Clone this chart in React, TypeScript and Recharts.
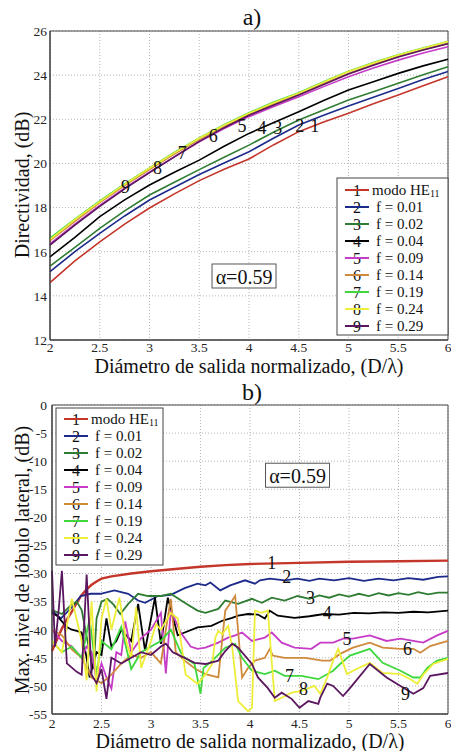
import React from 'react';
import { LineChart, Line, XAxis, YAxis, CartesianGrid, ReferenceDot, ReferenceArea } from 'recharts';

const FONT = "'Liberation Serif', 'Times New Roman', Times, 'DejaVu Serif', serif";

// ---------- shared ----------
const seriesNames = ['modo HE', 'f = 0.01', 'f = 0.02', 'f = 0.04', 'f = 0.09', 'f = 0.14', 'f = 0.19', 'f = 0.24', 'f = 0.29'];
const seriesDigits = ['1', '2', '3', '4', '5', '6', '7', '8', '9'];
const seriesColors = ['#c4352a', '#1c2a8a', '#2f7d32', '#000000', '#c63cc6', '#cf8a3c', '#3ed83e', '#eeee3a', '#5a165e'];
const xTicks = [2, 2.5, 3, 3.5, 4, 4.5, 5, 5.5, 6];
const xTickLabels = ['2', '2.5', '3', '3.5', '4', '4.5', '5', '5.5', '6'];

// ---------- chart a) Directividad ----------
const dirTicks = [12, 14, 16, 18, 20, 22, 24, 26];
const dirX = [2, 2.25, 2.5, 2.75, 3, 3.25, 3.5, 3.75, 4, 4.25, 4.5, 4.75, 5, 5.25, 5.5, 5.75, 6];
const dir1 = [14.6, 15.58, 16.45, 17.25, 17.98, 18.62, 19.22, 19.74, 20.2, 20.85, 21.44, 21.88, 22.27, 22.7, 23.1, 23.52, 23.93];
const dir2 = [15.1, 16.0, 16.83, 17.62, 18.34, 18.92, 19.5, 20.02, 20.53, 21.15, 21.74, 22.18, 22.6, 23.0, 23.4, 23.8, 24.16];
const dir3 = [15.35, 16.2, 17.06, 17.85, 18.57, 19.15, 19.72, 20.28, 20.83, 21.42, 21.97, 22.42, 22.87, 23.25, 23.63, 24.02, 24.38];
const dir4 = [15.77, 16.65, 17.59, 18.35, 19.02, 19.6, 20.15, 20.78, 21.36, 21.85, 22.34, 22.85, 23.33, 23.7, 24.08, 24.42, 24.72];
const dir5 = [16.35, 17.25, 18.1, 18.88, 19.6, 20.3, 20.98, 21.58, 22.12, 22.58, 23.02, 23.48, 23.93, 24.32, 24.68, 25.0, 25.29];
const dir6 = [16.5, 17.38, 18.22, 19.0, 19.72, 20.42, 21.08, 21.68, 22.22, 22.7, 23.14, 23.62, 24.08, 24.48, 24.84, 25.15, 25.44];
const dir7 = [16.62, 17.48, 18.3, 19.07, 19.8, 20.5, 21.16, 21.75, 22.3, 22.78, 23.2, 23.7, 24.18, 24.57, 24.92, 25.23, 25.52];
const dir8 = [16.55, 17.45, 18.27, 19.05, 19.78, 20.48, 21.14, 21.73, 22.27, 22.75, 23.18, 23.68, 24.16, 24.55, 24.91, 25.22, 25.52];
const dir9 = [16.3, 17.2, 18.05, 18.85, 19.58, 20.3, 21.0, 21.62, 22.18, 22.65, 23.1, 23.58, 24.05, 24.45, 24.82, 25.14, 25.42];
const dirSeries = [dir1, dir2, dir3, dir4, dir5, dir6, dir7, dir8, dir9];
const dirLabels = [
  { t: '1', x: 4.66, y: 21.7 }, { t: '2', x: 4.51, y: 21.7 }, { t: '3', x: 4.29, y: 21.6 },
  { t: '4', x: 4.13, y: 21.6 }, { t: '5', x: 3.93, y: 21.7 }, { t: '6', x: 3.64, y: 21.24 },
  { t: '7', x: 3.33, y: 20.47 }, { t: '8', x: 3.08, y: 19.8 }, { t: '9', x: 2.76, y: 18.93 },
];

// ---------- chart b) Max. nivel de lobulo lateral ----------
const sllTicks = [-55, -50, -45, -40, -35, -30, -25, -20, -15, -10, -5, 0];
const sll1 = [[2.0,-43.8],[2.05,-41.8],[2.1,-39.8],[2.15,-38.2],[2.2,-36.8],[2.25,-35.2],[2.3,-33.8],[2.35,-32.8],[2.4,-32.0],[2.45,-31.4],[2.5,-30.9],[2.6,-30.5],[2.8,-30.0],[3.0,-29.6],[3.3,-29.1],[3.5,-28.8],[3.75,-28.5],[4.0,-28.3],[4.5,-28.1],[5.0,-27.9],[5.5,-27.8],[6.0,-27.7]];
const sll2 = [[2.0,-36.6],[2.09,-38.0],[2.2,-36],[2.29,-34.0],[2.39,-33.6],[2.49,-33.6],[2.63,-33.0],[2.77,-33.6],[2.87,-34.8],[2.94,-35.2],[3.07,-34.0],[3.2,-33.8],[3.34,-32.6],[3.47,-31.8],[3.55,-32.1],[3.6,-31.6],[3.7,-33.0],[3.8,-32.1],[3.95,-31.2],[4.05,-31.8],[4.1,-31.2],[4.2,-30.9],[4.35,-31.2],[4.48,-30.9],[4.6,-31.3],[4.7,-30.9],[4.85,-31.2],[5.0,-30.8],[5.15,-31.3],[5.3,-30.9],[5.45,-31.2],[5.6,-30.8],[5.75,-31.1],[5.9,-30.6],[6.0,-30.5]];
const sll3 = [[2.0,-36.5],[2.1,-37.2],[2.2,-35.5],[2.25,-35],[2.3,-36.5],[2.38,-44],[2.42,-47],[2.45,-38],[2.5,-35],[2.56,-34.5],[2.62,-35.5],[2.69,-37.2],[2.77,-35.4],[2.87,-33.6],[2.97,-34],[3.1,-34],[3.2,-33.6],[3.34,-35.2],[3.47,-36.6],[3.55,-37],[3.68,-36.3],[3.75,-34.8],[3.88,-35.4],[4.02,-34.5],[4.12,-35.2],[4.22,-34.3],[4.35,-34.8],[4.48,-34],[4.6,-34.5],[4.7,-33.9],[4.8,-34.3],[4.9,-33.7],[5.0,-34.1],[5.1,-33.6],[5.2,-34.0],[5.3,-33.5],[5.4,-33.9],[5.5,-33.5],[5.6,-33.8],[5.7,-33.3],[5.8,-33.7],[5.9,-33.4],[6.0,-33.4]];
const sll4 = [[2.0,-37],[2.05,-37.5],[2.1,-38.5],[2.15,-39.5],[2.2,-40],[2.25,-40.2],[2.3,-40.5],[2.35,-45],[2.38,-48.5],[2.45,-44],[2.5,-44.5],[2.55,-38],[2.6,-43],[2.65,-42],[2.7,-40],[2.8,-42],[2.87,-35.4],[2.94,-43.7],[3.04,-34.3],[3.1,-42.5],[3.17,-34.3],[3.27,-41],[3.34,-40.5],[3.47,-39.6],[3.61,-39.3],[3.72,-38.4],[3.82,-37.9],[3.88,-37.5],[3.98,-37.2],[4.08,-37.3],[4.15,-38],[4.2,-36.6],[4.28,-37.5],[4.45,-37.9],[4.6,-37.6],[4.75,-37.2],[4.9,-37.3],[5.05,-37.0],[5.2,-37.1],[5.35,-36.9],[5.5,-37.0],[5.65,-36.8],[5.8,-36.9],[6.0,-36.6]];
const sll5 = [[2.0,-40],[2.05,-41],[2.1,-42],[2.2,-43],[2.3,-45],[2.35,-43],[2.4,-44],[2.45,-49],[2.5,-46],[2.55,-48.5],[2.6,-50.5],[2.65,-44],[2.7,-44.5],[2.74,-38.5],[2.8,-44],[2.9,-41.5],[3.0,-40],[3.1,-37],[3.15,-47.8],[3.2,-36.5],[3.3,-40.5],[3.4,-43],[3.47,-43.4],[3.55,-43.2],[3.68,-42.3],[3.78,-41.4],[3.85,-41],[3.92,-40.5],[4.02,-42],[4.15,-41.4],[4.22,-40.5],[4.32,-42.3],[4.45,-43.2],[4.62,-43.4],[4.71,-42.3],[4.84,-42.3],[4.94,-41.6],[5.04,-41.6],[5.21,-41.0],[5.38,-42],[5.52,-41.6],[5.65,-42],[5.75,-42.3],[5.89,-41],[6.0,-40.2]];
const sll6 = [[2.0,-40],[2.1,-41],[2.2,-43.5],[2.3,-45],[2.4,-48.5],[2.5,-49.5],[2.6,-48],[2.7,-46],[2.8,-44.5],[2.9,-45],[3.0,-44],[3.1,-46],[3.15,-40],[3.2,-34.5],[3.25,-44],[3.34,-45.5],[3.45,-47],[3.55,-47.9],[3.68,-48.5],[3.75,-36.6],[3.82,-34.8],[3.85,-34],[3.92,-48.5],[3.98,-46.8],[4.05,-45.5],[4.15,-45],[4.2,-43.4],[4.23,-44.6],[4.35,-45],[4.56,-45],[4.73,-45.5],[4.81,-45.5],[4.91,-44.3],[5.04,-43.2],[5.21,-42.3],[5.34,-43.2],[5.52,-43.4],[5.65,-43.4],[5.72,-44.1],[5.82,-42.9],[6.0,-42]];
const sll7 = [[2.0,-42],[2.1,-44],[2.2,-43],[2.3,-45],[2.38,-38],[2.45,-48],[2.5,-42],[2.6,-43.5],[2.7,-39.5],[2.8,-47],[2.9,-44],[3.0,-43],[3.1,-42],[3.2,-40],[3.3,-44],[3.34,-45],[3.44,-46.1],[3.5,-51.4],[3.53,-46.8],[3.62,-45.5],[3.75,-43.2],[3.85,-42.5],[3.92,-45],[4.02,-47.3],[4.15,-47.9],[4.25,-47.3],[4.35,-48.2],[4.52,-48.2],[4.69,-48.8],[4.84,-47.3],[4.91,-46.1],[5.01,-44.6],[5.21,-43.4],[5.34,-45.9],[5.52,-47.3],[5.65,-48.5],[5.72,-48.5],[5.79,-46.8],[5.89,-45.5],[6.0,-45]];
const sll8 = [[2.0,-42],[2.1,-44],[2.2,-34.5],[2.3,-42],[2.35,-49],[2.4,-35],[2.45,-51],[2.5,-38],[2.55,-34.5],[2.6,-40],[2.68,-34.3],[2.75,-42],[2.8,-45],[2.85,-36],[2.9,-46.8],[3.0,-42],[3.05,-39],[3.1,-40],[3.2,-37],[3.27,-38],[3.35,-48],[3.47,-49.6],[3.55,-48],[3.62,-46],[3.65,-41.4],[3.68,-40.2],[3.72,-40.8],[3.78,-39.3],[3.82,-43],[3.88,-52.7],[3.98,-54.5],[4.02,-53.9],[4.05,-36.6],[4.12,-37],[4.18,-36.6],[4.25,-52.7],[4.32,-52.1],[4.42,-51.2],[4.52,-50.9],[4.65,-50],[4.71,-51.4],[4.78,-48.5],[4.84,-45.5],[4.89,-43.4],[4.98,-47.9],[5.04,-47.3],[5.21,-45.9],[5.34,-47.7],[5.52,-47.9],[5.62,-48.8],[5.69,-49.6],[5.75,-48],[5.85,-46.1],[6.0,-45.2]];
const sll9 = [[2.0,-29.5],[2.03,-43],[2.07,-36],[2.1,-29.5],[2.15,-46],[2.25,-47.5],[2.3,-48],[2.35,-30.2],[2.4,-48],[2.45,-49.5],[2.5,-47],[2.55,-52.3],[2.6,-45],[2.7,-46],[2.8,-45],[2.9,-44],[3.0,-44.5],[3.1,-43],[3.15,-42.5],[3.22,-44],[3.34,-45],[3.44,-45.9],[3.55,-46.1],[3.68,-45.5],[3.75,-43.8],[3.82,-42.5],[3.88,-43.2],[4.02,-46.1],[4.08,-48.5],[4.18,-50.4],[4.25,-52.1],[4.32,-51.2],[4.42,-52.3],[4.5,-53.9],[4.59,-52.7],[4.69,-53.2],[4.71,-52.1],[4.78,-49.6],[4.84,-50],[4.94,-51.8],[5.01,-50.4],[5.21,-46.1],[5.38,-48.5],[5.52,-50],[5.65,-51.4],[5.75,-50.4],[5.82,-48.2],[6.0,-47.7]];
const sllSeries = [sll1, sll2, sll3, sll4, sll5, sll6, sll7, sll8, sll9];
const sllLabels = [
  { t: '1', x: 4.22, y: -28.2 }, { t: '2', x: 4.37, y: -30.7 }, { t: '3', x: 4.61, y: -34.3 },
  { t: '4', x: 4.78, y: -37.0 }, { t: '5', x: 4.98, y: -41.6 }, { t: '6', x: 5.59, y: -43.4 },
  { t: '7', x: 4.40, y: -48.2 }, { t: '8', x: 4.54, y: -50.5 }, { t: '9', x: 5.57, y: -51.4 },
];

const dirData = dirX.map((x, i) => {
  const row: any = { x };
  dirSeries.forEach((s, k) => { row['s' + (k + 1)] = s[i]; });
  return row;
});

const tickStyle = { fontSize: 13.5, fill: '#222', style: { fontFamily: FONT } };
const txt = { fontFamily: FONT } as React.CSSProperties;

const numLabel = (t: string) => (p: any) => (
  <text x={p.cx} y={p.cy} textAnchor="middle" dominantBaseline="central" fontSize={18} style={txt} fill="#111">{t}</text>
);

const alphaBox = (p: any) => (
  <g>
    <rect x={p.cx - 32} y={p.cy - 12} width={64} height={24} fill="#fff" stroke="#555" strokeWidth={1} />
    <text x={p.cx} y={p.cy + 1} textAnchor="middle" dominantBaseline="central" fontSize={20} style={txt} fill="#111">α=0.59</text>
  </g>
);

function LegendBox({ x, y, w, h, first, step }: { x: number; y: number; w: number; h: number; first: number; step: number }) {
  return (
    <g>
      <rect x={x} y={y} width={w} height={h} fill="#fff" stroke="#444" strokeWidth={1} />
      {seriesNames.map((n, i) => {
        const cy = first + i * step;
        return (
          <g key={i}>
            <text x={x + 20} y={cy} textAnchor="middle" dominantBaseline="central" fontSize={16} style={txt} fill="#111">{seriesDigits[i]}</text>
            <line x1={x + 8} x2={x + 32} y1={cy} y2={cy} stroke={seriesColors[i]} strokeWidth={2} />
            {i === 0 ? (
              <text x={x + 35} y={cy} dominantBaseline="central" fontSize={15} style={txt} fill="#111">
                {n}<tspan fontSize={10} dy={3}>11</tspan>
              </text>
            ) : (
              <text x={x + 39} y={cy} dominantBaseline="central" fontSize={15} style={txt} fill="#111">{n}</text>
            )}
          </g>
        );
      })}
    </g>
  );
}

export default function App() {
  return (
    <div style={{ position: 'absolute', left: 0, top: 0, width: 451, height: 751, background: '#fff', overflow: 'hidden', fontFamily: FONT }}>
      <div style={{ position: 'absolute', left: 0, top: 0 }}>
        <LineChart width={451} height={375} data={dirData} margin={{ top: 31, right: 3, bottom: 0, left: 20 }}>
          <CartesianGrid stroke="#b5b5b5" strokeDasharray="1 2" />
          <XAxis dataKey="x" type="number" domain={[2, 6]} ticks={xTicks} tickFormatter={(v: number) => xTickLabels[xTicks.indexOf(v)]}
            height={35} tick={tickStyle} tickLine={false} tickSize={2} tickMargin={0} axisLine={{ stroke: '#333' }} interval={0} />
          <YAxis type="number" domain={[12, 26]} ticks={dirTicks} width={30} tick={tickStyle} tickLine={false} tickSize={3}
            tickMargin={0} axisLine={{ stroke: '#333' }} interval={0} />
          <ReferenceArea x1={2} x2={6} y1={12} y2={26} fill="none" stroke="#444" strokeWidth={1} ifOverflow="visible" />
          {dirSeries.map((_, k) => (
            <Line key={k} dataKey={'s' + (k + 1)} type="linear" stroke={seriesColors[k]} strokeWidth={1.6} dot={false} isAnimationActive={false} />
          ))}
          {dirLabels.map((l) => (
            <ReferenceDot key={l.t} x={l.x} y={l.y} r={0} ifOverflow="visible" shape={numLabel(l.t)} />
          ))}
          <ReferenceDot x={3.95} y={14.9} r={0} ifOverflow="visible" shape={alphaBox} />
        </LineChart>
      </div>
      <div style={{ position: 'absolute', left: 0, top: 375 }}>
        <LineChart width={451} height={376} margin={{ top: 30, right: 3, bottom: 0, left: 20 }}>
          <CartesianGrid stroke="#b5b5b5" strokeDasharray="1 2" />
          <XAxis dataKey="x" type="number" domain={[2, 6]} ticks={xTicks} tickFormatter={(v: number) => xTickLabels[xTicks.indexOf(v)]}
            height={37} tick={tickStyle} tickLine={false} tickSize={4} tickMargin={0} axisLine={{ stroke: '#333' }} interval={0} allowDuplicatedCategory={false} />
          <YAxis type="number" domain={[-55, 0]} ticks={sllTicks} width={32} tick={tickStyle} tickLine={false} tickSize={5}
            tickMargin={0} axisLine={{ stroke: '#333' }} interval={0} />
          <ReferenceArea x1={2} x2={6} y1={-55} y2={0} fill="none" stroke="#444" strokeWidth={1} ifOverflow="visible" />
          {sllSeries.map((s, k) => (
            <Line key={k} data={s.map(([x, y]) => ({ x, y }))} dataKey="y" type="linear" stroke={seriesColors[k]}
              strokeWidth={k === 0 ? 2.4 : 1.8} dot={false} isAnimationActive={false} />
          ))}
          {sllLabels.map((l) => (
            <ReferenceDot key={l.t} x={l.x} y={l.y} r={0} ifOverflow="visible" shape={numLabel(l.t)} />
          ))}
          <ReferenceDot x={4.48} y={-12.5} r={0} ifOverflow="visible" shape={alphaBox} />
        </LineChart>
      </div>
      <svg width={451} height={751} style={{ position: 'absolute', left: 0, top: 0, pointerEvents: 'none' }}>
        <text x={252} y={17} textAnchor="middle" dominantBaseline="central" fontSize={24} style={txt} fill="#111">a)</text>
        <text x={249} y={366} textAnchor="middle" dominantBaseline="central" fontSize={20} style={txt} fill="#111">Diámetro de salida normalizado, (D/λ)</text>
        <text x={22} y={185} textAnchor="middle" dominantBaseline="central" fontSize={20} style={txt} fill="#111" transform="rotate(-90 22 185)">Directividad, (dB)</text>
        <text x={252} y={392} textAnchor="middle" dominantBaseline="central" fontSize={24} style={txt} fill="#111">b)</text>
        <text x={250} y={741} textAnchor="middle" dominantBaseline="central" fontSize={20} style={txt} fill="#111">Diámetro de salida normalizado, (D/λ)</text>
        <text x={22} y={560} textAnchor="middle" dominantBaseline="central" fontSize={20} style={txt} fill="#111" transform="rotate(-90 22 560)">Max. nivel de lóbulo lateral, (dB)</text>
        <LegendBox x={337} y={178} w={111} h={157} first={190} step={17} />
        <LegendBox x={56} y={408} w={107} h={157} first={419} step={17} />
      </svg>
    </div>
  );
}
